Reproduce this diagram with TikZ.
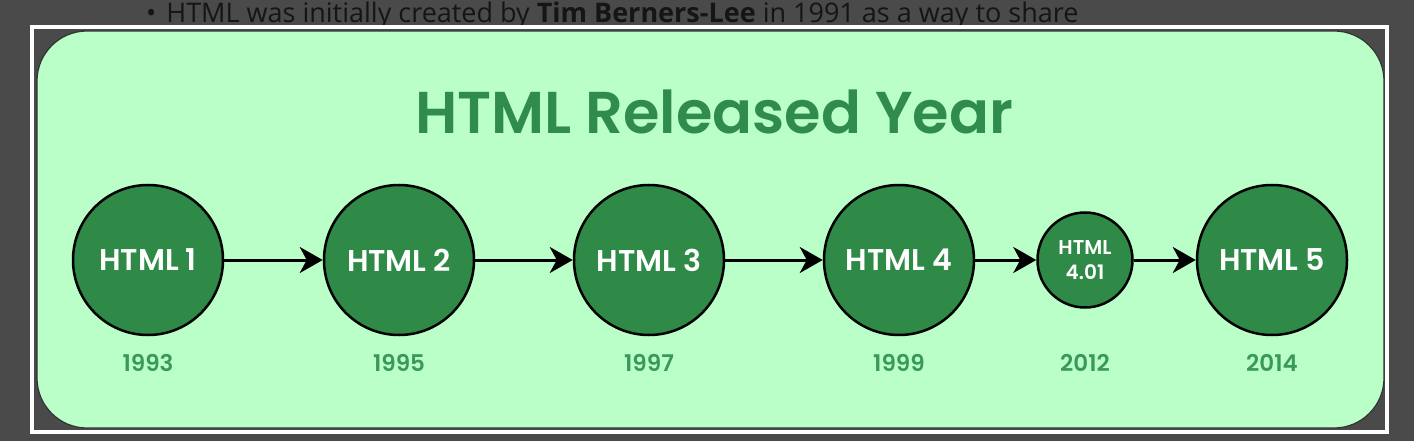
\documentclass[tikz,border=0pt]{standalone}
\usepackage{fontspec}
\setmainfont{Poppins}[BoldFont={* SemiBold}]
\newfontfamily\pagefont{Open Sans}
\usetikzlibrary{arrows.meta}

\definecolor{pagegrey}{HTML}{4A4A4A}
\definecolor{pagetext}{HTML}{151515}
\definecolor{boxgreen}{HTML}{BBFFC8}
\definecolor{nodegreen}{HTML}{2F8A47}
\definecolor{titlegreen}{HTML}{2F8C4B}
\definecolor{yeargreen}{HTML}{3A985A}

\tikzset{
  release/.style={circle, draw=black, line width=2.5pt, fill=nodegreen, text=white,
    font=\fontsize{30}{32}\selectfont\bfseries, minimum size=150pt, inner sep=0pt},
  minor/.style={release, minimum size=95pt, align=center,
    font=\fontsize{20}{25}\selectfont\bfseries},
  year/.style={anchor=base, text=yeargreen, font=\fontsize{23}{26}\selectfont\bfseries},
  flow/.style={-{Stealth[length=23pt, width=26pt, inset=7pt]}, line width=3pt},
}

\begin{document}
\begin{tikzpicture}[x=1pt, y=-1pt]
    % page behind the picture:
    \fill[pagegrey] (0,0) rectangle (1414,441);
    \useasboundingbox (0,0) rectangle (1414,441);
    \node[anchor=base west, inner sep=0pt, text=pagetext, font=\pagefont\fontsize{27}{30}\selectfont] (line) at (146,23)
        {\textbullet\hspace{10pt}HTML was initially created by \textbf{Tim Berners-Lee} in 1991 as a way to share};
    \draw[white, line width=4pt] (32,27) rectangle (1387,432); % Rahmen
    % green card:
    \draw[fill=boxgreen, draw=black!80, line width=1.2pt, rounded corners=50pt] (37,31) rectangle (1384,428);
    \node[anchor=base, text=titlegreen, font=\fontsize{59}{66}\selectfont\bfseries] (title) at (714,134) {HTML Released Year};
    % versions:
    \node[release] (h1) at (148,260) {HTML 1};
    \node[release] (h2) at (399,260) {HTML 2};
    \node[release] (h3) at (649,260) {HTML 3};
    \node[release] (h4) at (899,260) {HTML 4};
    \node[minor] (h401) at (1085,260) {HTML\\4.01};
    \node[release] (h5) at (1272,260) {HTML 5};
    % years:
    \node[year] (y1) at (148,371) {1993};
    \node[year] (y2) at (399,371) {1995};
    \node[year] (y3) at (649,371) {1997};
    \node[year] (y4) at (899,371) {1999};
    \node[year] (y401) at (1085,371) {2012};
    \node[year] (y5) at (1272,371) {2014};
    % arrows:
    \draw[flow] (h1) -- (h2);
    \draw[flow] (h2) -- (h3);
    \draw[flow] (h3) -- (h4);
    \draw[flow] (h4) -- (h401);
    \draw[flow] (h401) -- (h5);
\end{tikzpicture}
\end{document}
